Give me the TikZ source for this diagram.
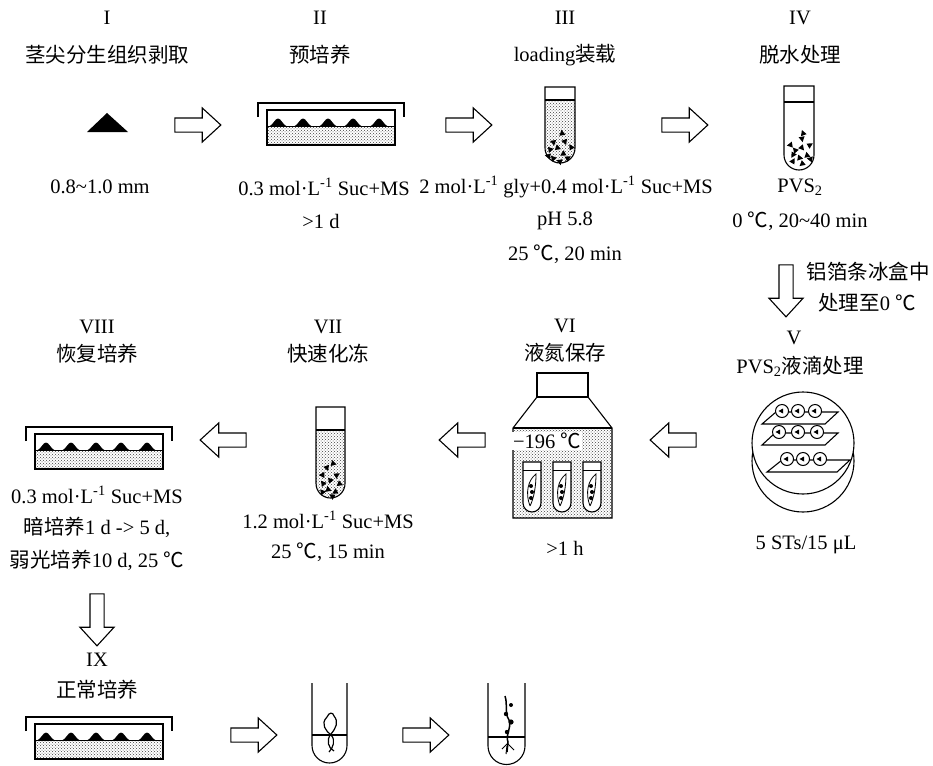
\documentclass[tikz,border=0pt]{standalone}
\usepackage{fontspec}
\setmainfont{Liberation Serif}
\newfontfamily\cjk{Noto Sans CJK SC}
\usetikzlibrary{shapes.arrows,patterns}
\tikzset{
  txt/.style={font=\fontsize{20.5}{24}\selectfont, inner sep=0pt, anchor=center},
  ctxt/.style={font=\fontsize{20.5}{24}\selectfont\cjk, inner sep=0pt, anchor=center},
  outline/.style={line width=1.1pt},
  hollow/.style={single arrow, draw, line width=1.1pt, inner sep=6.5pt,
    single arrow head extend=10pt, single arrow tip angle=85,
    single arrow head indent=0pt, minimum height=46pt},
  medium/.style={pattern=crosshatch dots, pattern color=black!75},
  pics/grain/.style={code={\fill (0,-3.2) -- (3,2.3) -- (-3,2.3) -- cycle;}},
  pics/dish/.style={code={
    % lid
    \draw[outline] (-73,7) -- (-73,-7) -- (73,-7) -- (73,7);
    % culture medium with explants
    \fill[medium] (-64,16) rectangle (64,35);
    \draw[line width=0.9pt] (-64,16) -- (64,16);
    \foreach \t in {-53,-28,-3,22,48}
      \fill (\t-9,16.5) .. controls (\t-5,15) and (\t-3,8.5) .. (\t,8.5)
            .. controls (\t+3,8.5) and (\t+5,15) .. (\t+9,16.5) -- cycle;
    % dish wall
    \draw[outline] (-64,0) rectangle (64,35);
  }},
}
\begin{document}
\begin{tikzpicture}[x=1pt,y=-1pt]
\useasboundingbox (0,0) rectangle (933,765);

% ---------- stage I ----------
\node[txt] (r1) at (107,18) {I};
\node[ctxt] (h1) at (107,55) {茎尖分生组织剥取};
\fill (87,132) -- (107,113) -- (128,132) -- cycle;
\node[txt] (d1) at (100,187) {0.8\textasciitilde1.0 mm};

\node[hollow] (a1) at (194,125) {};

% ---------- stage II ----------
\node[txt] (r2) at (320,18) {II};
\node[ctxt] (h2) at (320,55) {预培养};
\pic at (331,110) {dish};
\node[txt] (d2) at (324,187) {0.3 mol·L\textsuperscript{-1} Suc+MS};
\node[txt] (e2) at (321,221) {>1 d};

\node[hollow] (a2) at (465,125) {};

% ---------- stage III ----------
\node[txt] (r3) at (565,18) {III};
\node[txt] (h3) at (565,55) {loading{\cjk 装载}};
\fill[medium] (545,101) -- (545,148) arc[start angle=180,end angle=0,radius=15] -- (575,101) -- cycle;
\foreach \x/\y/\a in {562/133/10,553/142/70,565/142/200,571/147/30,550/150/160,558/148/250,
  563/154/120,553/158/40,568/158/300,560/162/190,548/156/80}
  \pic[rotate=\a] at (\x,\y) {grain};
\draw[outline] (545,87) -- (545,148) arc[start angle=180,end angle=0,radius=15] -- (575,87) -- cycle;
\draw[outline] (545,100) -- (575,100);
\node[txt] (d3) at (566,187) {2 mol·L\textsuperscript{-1} gly+0.4 mol·L\textsuperscript{-1} Suc+MS};
\node[txt] (e3) at (565,221) {pH 5.8};
\node[txt] (f3) at (565,254) {25 {\cjk ℃}, 20 min};

\node[hollow] (a3) at (681,125) {};

% ---------- stage IV ----------
\node[txt] (r4) at (800,18) {IV};
\node[ctxt] (h4) at (800,55) {脱水处理};
\foreach \x/\y/\a in {803/133/20,802/139/190,790/145/100,810/145/300,795/150/40,802/148/220,
  793/155/150,807/155/10,800/158/260,810/159/80,793/161/330,802/164/130}
  \pic[rotate=\a] at (\x,\y) {grain};
\draw[outline] (784,86) -- (784,155) arc[start angle=180,end angle=0,radius=15] -- (814,86) -- cycle;
\draw[outline] (784,102) -- (814,102);
\node[txt] (d4) at (800,187) {PVS\textsubscript{2}};
\node[txt] (e4) at (800,221) {0 {\cjk ℃}, 20\textasciitilde40 min};

\node[hollow, minimum height=52pt, rotate=-90] (a4) at (786,287) {};
\node[ctxt] (n4) at (868,272) {铝箔条冰盒中};
\node[txt] (m4) at (867,303) {{\cjk 处理至}0 {\cjk ℃}};

% ---------- stage V ----------
\node[txt] (r5) at (794,338) {V};
\node[txt] (h5) at (800,366) {PVS\textsubscript{2}{\cjk 液滴处理}};
\draw[outline, fill=white] (803,461) circle (51);
\draw[outline, fill=white] (803,443) circle (51);
\foreach \dy/\ta/\tb/\ba/\bb/\ca/\cb/\cc in
  {0/776/838/762/825/782/798/815,
   21/775/838/762/825/779/798/817,
   48/782/850/767/837/787/803/820}{
  \draw[outline, fill=white] (\ta,412+\dy) -- (\tb,412+\dy) -- (\bb,424+\dy) -- (\ba,424+\dy) -- cycle;
  \foreach \c in {\ca,\cb,\cc}{
    \draw[line width=1pt, fill=white] (\c,411+\dy) circle (6.5);
    \fill (\c-3.5,411+\dy) -- (\c+1,408.5+\dy) -- (\c+1,413.5+\dy) -- cycle;
  }
}
\node[txt] (d5) at (806,545) {5 STs/15 μL};

\node[hollow, rotate=180] (a5) at (677,440) {};

% ---------- stage VI ----------
\node[txt] (r6) at (565,326) {VI};
\node[ctxt] (h6) at (565,353) {液氮保存};
\fill[medium] (513,428) rectangle (612,518);
\draw[outline] (537,373) rectangle (588,397);
\draw[outline] (537,397) -- (513,428) -- (513,518) -- (612,518) -- (612,428) -- (588,397);
\draw[outline] (513,428) -- (612,428);
\node[txt, fill=white, inner sep=1pt] (t6) at (547,441) {−196 {\cjk ℃}};
\foreach \c in {532,562,592}{
  \draw[outline, fill=white] (\c-9,462) -- (\c-9,503) arc[start angle=180,end angle=0,radius=9] -- (\c+9,462) -- cycle;
  \draw[line width=0.9pt] (\c-9,470) -- (\c+9,470);
  \draw[line width=0.8pt] (\c-2,506) .. controls (\c-7,493) and (\c-4,480) .. (\c+4,474)
     .. controls (\c+4,486) and (\c+2,498) .. (\c-2,506);
  \fill (\c-1,486) circle (2) (\c,492) circle (2) (\c-1,498) circle (2);
}
\node[txt] (d6) at (565,548) {>1 h};

\node[hollow, rotate=180] (a6) at (466,440) {};

% ---------- stage VII ----------
\node[txt] (r7) at (328,327) {VII};
\node[ctxt] (h7) at (328,354) {快速化冻};
\fill[medium] (316,431) -- (316,483.5) arc[start angle=180,end angle=0,radius=14.5] -- (345,431) -- cycle;
\foreach \x/\y/\a in {333/463/15,327/468/200,322/475/90,337/475/300,330/480/40,323/484/160,
  340/484/250,328/489/10,335/492/120,323/492/280,332/496/60}
  \pic[rotate=\a] at (\x,\y) {grain};
\draw[outline] (316,407) -- (316,483.5) arc[start angle=180,end angle=0,radius=14.5] -- (345,407) -- cycle;
\draw[outline] (316,430) -- (345,430);
\node[txt] (d7) at (328,520) {1.2 mol·L\textsuperscript{-1} Suc+MS};
\node[txt] (e7) at (328,552) {25 {\cjk ℃}, 15 min};

\node[hollow, rotate=180] (a7) at (227,440) {};

% ---------- stage VIII ----------
\node[txt] (r8) at (97,327) {VIII};
\node[ctxt] (h8) at (97,354) {恢复培养};
\pic at (99,434) {dish};
\node[txt] (d8) at (97,495) {0.3 mol·L\textsuperscript{-1} Suc+MS};
\node[txt] (e8) at (97,527) {{\cjk 暗培养}1 d -> 5 d,};
\node[txt] (f8) at (97,560) {{\cjk 弱光培养}10 d, 25 {\cjk ℃}};

\node[hollow, minimum height=52pt, rotate=-90] (a8) at (97,616) {};

% ---------- stage IX ----------
\node[txt] (r9) at (97,660) {IX};
\node[ctxt] (h9) at (97,690) {正常培养};
\pic at (99,724) {dish};

\node[hollow] (a9) at (250,735) {};

% plantlet in tube
\draw[outline] (312,683) -- (312,745.5) arc[start angle=180,end angle=0,radius=17.5] -- (347,683);
\draw[outline] (312,735) -- (347,735);
\draw[line width=1.2pt] (327,717) .. controls (320,724) and (326,731) .. (331,735)
   .. controls (336,740) and (333,748) .. (329,752);
\draw[line width=1.2pt] (334,716) .. controls (339,722) and (336,728) .. (331,734)
   .. controls (326,740) and (328,748) .. (334,751);
\draw[line width=1.2pt] (327,717) .. controls (329,712) and (333,712) .. (334,716);

\node[hollow] (a10) at (422,735) {};

% grown plantlet in tube
\draw[outline] (488,683) -- (488,746) arc[start angle=180,end angle=0,radius=18.5] -- (525,683);
\draw[outline] (488,737) -- (525,737);
\draw[line width=1.5pt] (505,696) .. controls (508,705) and (504,712) .. (509,720)
   .. controls (512,728) and (505,735) .. (508,742) -- (507,752);
\fill (511,705) circle (2) (506,714) circle (2.2) (511,722) circle (2.6) (507,732) circle (2.2);
\draw[line width=1pt] (508,743) -- (502,749) (508,744) -- (514,750) (507,746) -- (506,754);
\end{tikzpicture}
\end{document}
